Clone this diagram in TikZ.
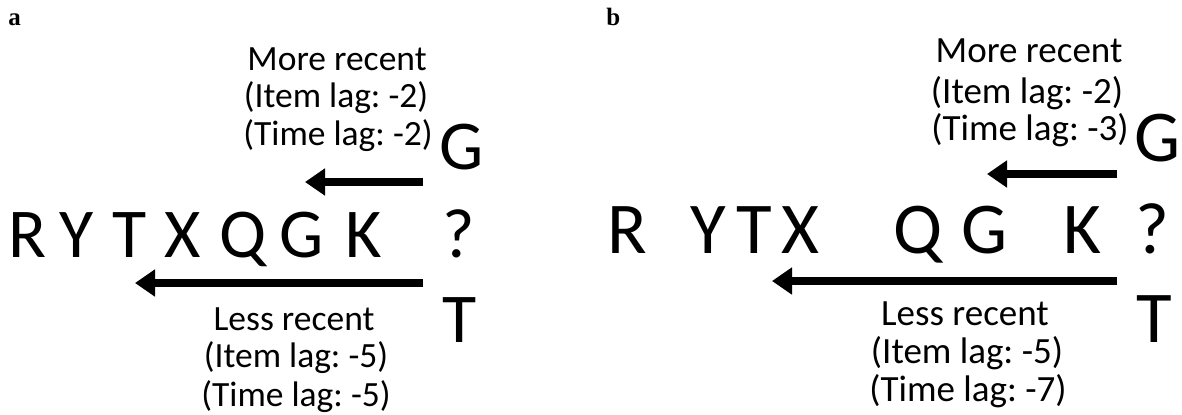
\documentclass[tikz,border=0pt]{standalone}
\usepackage{fontspec}
\setmainfont{Carlito}
\newfontfamily\panelfont{Liberation Serif}
\usetikzlibrary{arrows.meta}
\frenchspacing

\begin{document}
\begin{tikzpicture}[
  x=0.5pt, y=-0.5pt,
  letter/.style={anchor=base, inner sep=0pt, font=\fontsize{35}{40}\selectfont},
  letterb/.style={letter, font=\fontsize{36.5}{40}\selectfont},
  lab/.style={anchor=base, inner sep=0pt, font=\fontsize{17.75}{20}\selectfont},
  labb/.style={lab, font=\fontsize{18.5}{20}\selectfont},
  panel/.style={anchor=base west, inner sep=0pt, font=\panelfont\bfseries\fontsize{12.5}{14}\selectfont},
  lag/.style={-{Triangle[length=10pt, width=13pt]}, line width=4pt}
]
  \useasboundingbox (0,0) rectangle (1182,414);

  % panel a
  \node[panel] (pa) at (8,25) {a};
  \foreach \ch/\cx [count=\i] in {R/28,Y/77,T/129.5,X/182.5,Q/243.5,G/301.5,K/364}
    \node[letter] (a-\i) at (\cx,257) {\ch};
  \node[letter] (a-q) at (459,257) {?};
  \node[letter] (a-g) at (462,169) {G};
  \node[letter] (a-t) at (460,342) {T};
  \node[lab] (a-more) at (337,70) {More recent};
  \node[lab] (a-more-i) at (336,107) {(Item lag: -2)};
  \node[lab] (a-more-t) at (338,145) {(Time lag: -2)};
  \node[lab] (a-less) at (294,330) {Less recent};
  \node[lab] (a-less-i) at (296,367) {(Item lag: -5)};
  \node[lab] (a-less-t) at (296,406) {(Time lag: -5)};
  \coordinate (a-up0) at (423,182);
  \coordinate (a-up1) at (305,182);
  \coordinate (a-lo0) at (423,283);
  \coordinate (a-lo1) at (135,283);
  \draw[lag] (a-up0) -- (a-up1);
  \draw[lag] (a-lo0) -- (a-lo1);

  % panel b
  \node[panel] (pb) at (606,25) {b};
  \foreach \ch/\cx [count=\i] in {R/627.5,Y/708.5,T/754.5,X/800,Q/918,G/985,K/1082.5}
    \node[letterb] (b-\i) at (\cx,253) {\ch};
  \node[letterb] (b-q) at (1152,253) {?};
  \node[letterb] (b-g) at (1158,161) {G};
  \node[letterb] (b-t) at (1154.5,342) {T};
  \node[labb] (b-more) at (1029,62) {More recent};
  \node[labb] (b-more-i) at (1027,103) {(Item lag: -2)};
  \node[labb] (b-more-t) at (1030,140) {(Time lag: -3)};
  \node[labb] (b-less) at (965,325) {Less recent};
  \node[labb] (b-less-i) at (967,363) {(Item lag: -5)};
  \node[labb] (b-less-t) at (968,401) {(Time lag: -7)};
  \coordinate (b-up0) at (1117,174);
  \coordinate (b-up1) at (987,174);
  \coordinate (b-lo0) at (1117,281);
  \coordinate (b-lo1) at (772,281);
  \draw[lag] (b-up0) -- (b-up1);
  \draw[lag] (b-lo0) -- (b-lo1);
\end{tikzpicture}
\end{document}
